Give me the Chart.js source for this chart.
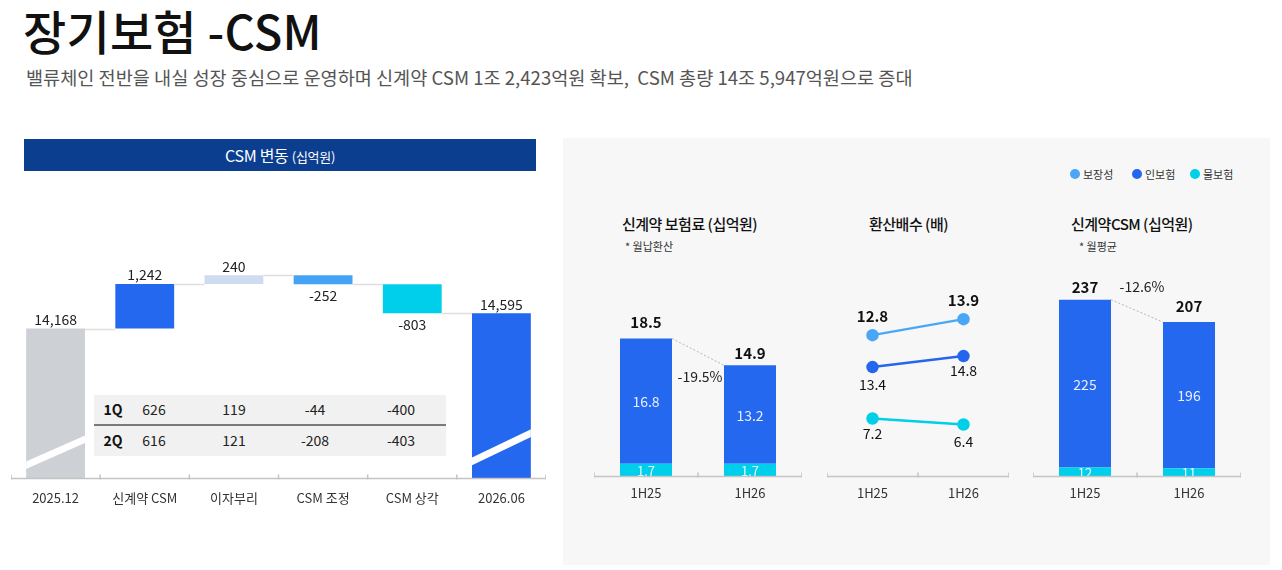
<!DOCTYPE html>
<html><head><meta charset="utf-8">
<script src="https://cdn.jsdelivr.net/npm/chart.js@4.4.1/dist/chart.umd.min.js"></script>
<style>
body{margin:0;width:1282px;height:570px;background:#fff;position:relative;overflow:hidden;font-family:'Noto Sans CJK KR','Noto Sans',sans-serif;color:#222}
.abs{position:absolute}
#title{left:23px;top:-2px;font-size:47px;font-weight:500;letter-spacing:0.2px;color:#111;line-height:64px;white-space:pre}
#sub{left:26px;top:63px;font-size:18.6px;color:#555;letter-spacing:0px;line-height:28px;white-space:pre}
#band{left:24px;top:139px;width:512px;height:32px;background:#0b3e8f;color:#fff;text-align:center;line-height:32px;font-size:16px;letter-spacing:-0.3px}
#band span{font-size:13px}
#panel{left:563px;top:138px;width:707px;height:427px;background:#f7f7f7}
.ct{font-size:15px;color:#111;font-weight:500;letter-spacing:-0.5px;white-space:pre;line-height:20px}
.note{font-size:11px;color:#333;white-space:pre;line-height:14px}
.lg{font-size:11px;color:#333;white-space:pre;line-height:14px;display:flex;align-items:center}
.dot{width:10px;height:10px;border-radius:50%;display:inline-block;margin-right:3px}
#tbl{left:94px;top:395px;width:352px;height:61px;background:#f1f1f1}
#tbl .sep{position:absolute;left:0;top:29px;width:352px;height:2px;background:#7a7a7a}
.cell{position:absolute;font-size:14px;color:#222;transform:translate(-50%,-50%);white-space:pre}
.cell.b{font-weight:700;color:#111}
</style></head>
<body>
<div id="title" class="abs">장기보험 -CSM</div>
<div id="sub" class="abs">밸류체인 전반을 내실 성장 중심으로 운영하며 신계약 CSM 1조 2,423억원 확보,  CSM 총량 14조 5,947억원으로 증대</div>
<div id="band" class="abs">CSM 변동 <span>(십억원)</span></div>
<div id="panel" class="abs"></div>

<div class="abs lg" style="left:1070px;top:167px"><span class="dot" style="background:#4aa6f7"></span>보장성</div>
<div class="abs lg" style="left:1132px;top:167px"><span class="dot" style="background:#2466ee"></span>인보험</div>
<div class="abs lg" style="left:1190px;top:167px"><span class="dot" style="background:#00cfe8"></span>물보험</div>

<div class="abs ct" style="left:622px;top:214px">신계약 보험료 (십억원)</div>
<div class="abs note" style="left:625px;top:239px">* 월납환산</div>
<div class="abs ct" style="left:869px;top:214px">환산배수 (배)</div>
<div class="abs ct" style="left:1071px;top:214px">신계약CSM (십억원)</div>
<div class="abs note" style="left:1079px;top:239px">* 월평균</div>

<div class="abs" style="left:11px;top:198px;width:535px;height:320px"><canvas id="wf"></canvas></div>
<div id="tbl" class="abs"><div class="sep"></div></div>
<div class="abs" style="left:594px;top:260px;width:208px;height:250px"><canvas id="c1"></canvas></div>
<div class="abs" style="left:827px;top:260px;width:182px;height:250px"><canvas id="c2"></canvas></div>
<div class="abs" style="left:1033px;top:260px;width:208px;height:250px"><canvas id="c3"></canvas></div>

<script>
// ---------- DATA ----------
const wfCategories = ['2025.12', '신계약 CSM', '이자부리', 'CSM 조정', 'CSM 상각', '2026.06'];
const wfValues = [14168, 1242, 240, -252, -803, 14595];
const wfIsTotal = [true, false, false, false, false, true];

const quarterLabels = ['1Q', '2Q'];
const q1Values = [626, 119, -44, -400];
const q2Values = [616, 121, -208, -403];

const halfLabels = ['1H25', '1H26'];
const premiumLong = [16.8, 13.2];      // 인보험
const premiumProperty = [1.7, 1.7];   // 물보험
const premiumTotal = [18.5, 14.9];
const premiumChange = '-19.5%';

const multProtection = [12.8, 13.9];  // 보장성
const multLong = [13.4, 14.8];        // 인보험
const multProperty = [7.2, 6.4];      // 물보험

const csmLong = [225, 196];           // 인보험
const csmProperty = [12, 11];         // 물보험
const csmTotal = [237, 207];
const csmChange = '-12.6%';

// ---------- STYLE ----------
const FONT = "'Noto Sans CJK KR','Noto Sans',sans-serif";
Chart.defaults.font.family = FONT;
Chart.defaults.animation = false;
Chart.defaults.events = [];
Chart.defaults.plugins.legend.display = false;
Chart.defaults.plugins.tooltip.enabled = false;
const C_BLUE = '#2568f0', C_CYAN = '#00cfeb', C_LIGHT = '#4aa6f7', C_GRAY = '#cdd0d5', C_LAV = '#cfdbf1', C_MID = '#45a3f5';
const wfColors = [C_GRAY, C_BLUE, C_LAV, C_MID, C_CYAN, C_BLUE];

// ---------- TABLE ----------
(function(){
  const tbl = document.getElementById('tbl');
  const colX = [60, 140, 221, 307];
  const rowY = [14, 45];
  [q1Values, q2Values].forEach((row, r) => {
    const h = document.createElement('div'); h.className = 'cell b';
    h.style.left = '19px'; h.style.top = rowY[r] + 'px'; h.textContent = quarterLabels[r]; tbl.appendChild(h);
    row.forEach((v, c) => {
      const d = document.createElement('div'); d.className = 'cell';
      d.style.left = colX[c] + 'px'; d.style.top = rowY[r] + 'px'; d.textContent = String(v); tbl.appendChild(d);
    });
  });
})();

// ---------- AXIS PLUGIN ----------
const axisPlugin = {
  id: 'axisDeco',
  afterDraw(chart) {
    const ctx = chart.ctx, x = chart.scales.x, a = chart.chartArea;
    const n = chart.data.labels.length;
    ctx.save();
    ctx.strokeStyle = '#c4c4c4'; ctx.lineWidth = 1.5;
    ctx.beginPath(); ctx.moveTo(x.left, a.bottom); ctx.lineTo(x.right, a.bottom); ctx.stroke();
    for (let i = 0; i <= n; i++) {
      const px = x.left + (x.right - x.left) * i / n;
      ctx.beginPath(); ctx.moveTo(px, a.bottom - 4); ctx.lineTo(px, a.bottom + 1); ctx.stroke();
    }
    ctx.restore();
  }
};

const xAxis = (pad) => ({
  grid: { display: false, drawTicks: false, tickLength: 0 }, border: { display: false },
  ticks: { color: '#333', font: { size: 13 }, padding: pad, maxRotation: 0, autoSkip: false }
});

// ---------- WATERFALL ----------
const WF_MIN = 10000, WF_MAX = 17800;
let running = 0;
const wfRanges = [], wfLevels = [];
wfValues.forEach((v, i) => {
  if (wfIsTotal[i]) { running = v; wfRanges.push([WF_MIN, v]); }
  else { const s = running; running += v; wfRanges.push([s, running]); }
  wfLevels.push(running);
});

const waterfallPlugin = {
  id: 'waterfallDeco',
  afterDatasetsDraw(chart, args, opts) {
    const ctx = chart.ctx, meta = chart.getDatasetMeta(0), y = chart.scales.y;
    ctx.save();
    ctx.strokeStyle = '#dedede'; ctx.lineWidth = 1.5;
    for (let i = 0; i < meta.data.length - 1; i++) {
      const a = meta.data[i], b = meta.data[i + 1];
      const py = Math.round(y.getPixelForValue(wfLevels[i])) + 0.5;
      ctx.beginPath(); ctx.moveTo(a.x + a.width / 2, py); ctx.lineTo(b.x - b.width / 2, py); ctx.stroke();
    }
    Object.keys(opts.breaks).forEach(k => {
      const el = meta.data[+k], [lo, hi] = opts.breaks[k];
      const l = el.x - el.width / 2, r = el.x + el.width / 2;
      ctx.save();
      ctx.beginPath(); ctx.rect(l, Math.min(el.y, el.base), el.width, Math.abs(el.base - el.y)); ctx.clip();
      ctx.strokeStyle = '#ffffff'; ctx.lineWidth = 7;
      ctx.beginPath(); ctx.moveTo(l - 2, y.getPixelForValue(lo)); ctx.lineTo(r + 2, y.getPixelForValue(hi)); ctx.stroke();
      ctx.restore();
    });
    ctx.fillStyle = '#222'; ctx.font = '14px ' + FONT; ctx.textAlign = 'center'; ctx.textBaseline = 'middle';
    meta.data.forEach((el, i) => {
      const v = wfValues[i];
      const top = Math.min(el.y, el.base), bot = Math.max(el.y, el.base);
      const txt = v.toLocaleString('en-US');
      if (v >= 0) ctx.fillText(txt, el.x, top - 9);
      else ctx.fillText(txt, el.x, bot + 11);
    });
    ctx.restore();
  }
};

new Chart(document.getElementById('wf'), {
  type: 'bar',
  data: { labels: wfCategories, datasets: [{ data: wfRanges, backgroundColor: wfColors, borderWidth: 0, barPercentage: 0.66, categoryPercentage: 1 }] },
  options: {
    responsive: true, maintainAspectRatio: false,
    layout: { padding: 0, autoPadding: false },
    scales: { x: xAxis(12), y: { display: false, min: WF_MIN, max: WF_MAX } },
    plugins: { waterfallDeco: { breaks: { 0: [10343, 11114], 5: [10446, 11282] } } }
  },
  plugins: [waterfallPlugin, axisPlugin]
});

// ---------- STACKED BAR CHARTS ----------
const stackPlugin = {
  id: 'stackDeco',
  afterDatasetsDraw(chart, args, opts) {
    const ctx = chart.ctx;
    const m1 = chart.getDatasetMeta(1);
    ctx.save();
    ctx.textAlign = 'center'; ctx.textBaseline = 'middle';
    [0, 1].forEach(d => {
      const meta = chart.getDatasetMeta(d);
      ctx.fillStyle = d === 0 ? '#e6fbff' : '#e8efff';
      ctx.font = (d === 0 ? '13px ' : '14px ') + FONT;
      meta.data.forEach((el, i) => {
        ctx.fillText(String(chart.data.datasets[d].data[i]), el.x, (el.y + el.base) / 2 + 1);
      });
    });
    ctx.fillStyle = '#111'; ctx.font = 'bold 15px ' + FONT;
    m1.data.forEach((el, i) => ctx.fillText(String(opts.totals[i]), el.x, el.y - opts.totalOffset[i]));
    const a = m1.data[0], b = m1.data[1];
    const x1 = a.x + a.width / 2, y1 = a.y, x2 = b.x - b.width / 2, y2 = b.y;
    ctx.strokeStyle = '#b5b5b5'; ctx.lineWidth = 1; ctx.setLineDash([2, 2]);
    ctx.beginPath(); ctx.moveTo(x1, y1); ctx.lineTo(x2, y2); ctx.stroke();
    ctx.setLineDash([]);
    ctx.fillStyle = '#222'; ctx.font = '14px ' + FONT;
    ctx.fillText(opts.change, (x1 + x2) / 2 + opts.changeDx, (y1 + y2) / 2 + opts.changeDy);
    ctx.restore();
  }
};

function stackChart(id, lower, upper, max, totals, change, totalOffset, changeDx, changeDy) {
  new Chart(document.getElementById(id), {
    type: 'bar',
    data: { labels: halfLabels, datasets: [
      { label: '물보험', data: lower, backgroundColor: C_CYAN, borderWidth: 0, barPercentage: 0.5, categoryPercentage: 1 },
      { label: '인보험', data: upper, backgroundColor: C_BLUE, borderWidth: 0, barPercentage: 0.5, categoryPercentage: 1 }
    ] },
    options: {
      responsive: true, maintainAspectRatio: false, layout: { padding: { top: 30 }, autoPadding: false },
      scales: { x: Object.assign(xAxis(9), { stacked: true }), y: { display: false, stacked: true, min: 0, max: max } },
      plugins: { stackDeco: { totals, change, totalOffset, changeDx, changeDy } }
    },
    plugins: [stackPlugin, axisPlugin]
  });
}
stackChart('c1', premiumProperty, premiumLong, 25, premiumTotal, premiumChange, [16, 12], 2, 25);
stackChart('c3', csmProperty, csmLong, 250, csmTotal, csmChange, [12, 16], 5, -24);

// ---------- LINE CHART ----------
const linePlugin = {
  id: 'lineDeco',
  afterDatasetsDraw(chart, args, opts) {
    const ctx = chart.ctx;
    ctx.save(); ctx.textAlign = 'center'; ctx.textBaseline = 'middle'; ctx.fillStyle = '#111';
    chart.data.datasets.forEach((ds, d) => {
      const meta = chart.getDatasetMeta(d), o = opts.pos[d];
      ctx.font = (o.bold ? 'bold 15px ' : '14px ') + FONT;
      meta.data.forEach((el, i) => ctx.fillText(String(ds.data[i]), el.x, el.y + o.dy[i]));
    });
    ctx.restore();
  }
};
const lineDs = (label, data, color, axis) => ({ label, data, yAxisID: axis, borderColor: color, backgroundColor: color,
  pointBackgroundColor: color, pointBorderColor: color, pointRadius: 5, borderWidth: 2.5, clip: false, tension: 0 });
new Chart(document.getElementById('c2'), {
  type: 'line',
  data: { labels: halfLabels, datasets: [
    lineDs('보장성', multProtection, C_LIGHT, 'yP'),
    lineDs('인보험', multLong, '#2466ee', 'yL'),
    lineDs('물보험', multProperty, '#00cfe8', 'yR')
  ] },
  options: {
    responsive: true, maintainAspectRatio: false, layout: { padding: { top: 30 }, autoPadding: false },
    scales: {
      x: Object.assign(xAxis(9), { offset: true }),
      yP: { display: false, min: 3.1, max: 15.9 },
      yL: { display: false, min: -0.5, max: 23.2 },
      yR: { display: false, min: -0.5, max: 24.3 }
    },
    plugins: { lineDeco: { pos: [
      { bold: true, dy: [-19, -19] },
      { bold: false, dy: [18, 15] },
      { bold: false, dy: [15, 17] }
    ] } }
  },
  plugins: [linePlugin, axisPlugin]
});
</script>
</body></html>
